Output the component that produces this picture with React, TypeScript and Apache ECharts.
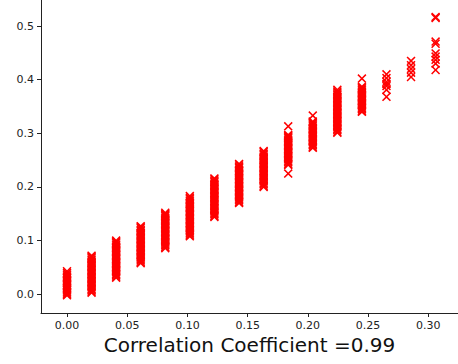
import React, { useEffect, useRef } from "react";
import * as echarts from "echarts";

const xPositions = [0, 0.0204, 0.0408, 0.0612, 0.0816, 0.102, 0.1224, 0.1429, 0.1633, 0.1837, 0.2041, 0.2245, 0.2449, 0.2653, 0.2857, 0.3061];

const col0 = [-0.002, 0.000, 0.003, 0.005, 0.008, 0.010, 0.012, 0.015, 0.017, 0.020, 0.022, 0.025, 0.027, 0.030, 0.032, 0.035, 0.037, 0.040, 0.043];
const col1 = [0.003, 0.005, 0.008, 0.010, 0.013, 0.015, 0.018, 0.020, 0.023, 0.025, 0.028, 0.030, 0.033, 0.035, 0.038, 0.040, 0.043, 0.045, 0.048, 0.050, 0.053, 0.055, 0.058, 0.060, 0.063, 0.065, 0.068, 0.070, 0.072];
const col2 = [0.031, 0.033, 0.036, 0.038, 0.041, 0.043, 0.046, 0.048, 0.051, 0.053, 0.056, 0.058, 0.061, 0.063, 0.066, 0.068, 0.071, 0.073, 0.076, 0.078, 0.081, 0.083, 0.086, 0.088, 0.091, 0.093, 0.096, 0.098, 0.100];
const col3 = [0.058, 0.060, 0.063, 0.065, 0.068, 0.070, 0.073, 0.075, 0.078, 0.080, 0.083, 0.085, 0.088, 0.090, 0.093, 0.095, 0.098, 0.100, 0.103, 0.105, 0.108, 0.110, 0.113, 0.115, 0.118, 0.120, 0.123, 0.125, 0.127];
const col4 = [0.086, 0.088, 0.091, 0.093, 0.096, 0.098, 0.101, 0.103, 0.106, 0.108, 0.111, 0.113, 0.116, 0.118, 0.121, 0.123, 0.126, 0.128, 0.131, 0.133, 0.136, 0.138, 0.141, 0.143, 0.146, 0.148, 0.150, 0.152];
const col5 = [0.108, 0.110, 0.113, 0.115, 0.118, 0.120, 0.123, 0.125, 0.128, 0.130, 0.133, 0.135, 0.138, 0.140, 0.143, 0.145, 0.148, 0.150, 0.153, 0.155, 0.158, 0.160, 0.163, 0.165, 0.168, 0.170, 0.173, 0.175, 0.178, 0.180, 0.183];
const col6 = [0.144, 0.146, 0.149, 0.151, 0.154, 0.156, 0.159, 0.161, 0.164, 0.166, 0.169, 0.171, 0.174, 0.176, 0.179, 0.181, 0.184, 0.186, 0.189, 0.191, 0.194, 0.196, 0.199, 0.201, 0.204, 0.206, 0.209, 0.211, 0.214, 0.216];
const col7 = [0.170, 0.172, 0.175, 0.177, 0.180, 0.182, 0.185, 0.187, 0.190, 0.192, 0.195, 0.197, 0.200, 0.202, 0.205, 0.207, 0.210, 0.212, 0.215, 0.217, 0.220, 0.222, 0.225, 0.227, 0.230, 0.232, 0.235, 0.237, 0.240, 0.243];
const col8 = [0.200, 0.202, 0.205, 0.207, 0.210, 0.212, 0.215, 0.217, 0.220, 0.222, 0.225, 0.227, 0.230, 0.232, 0.235, 0.237, 0.240, 0.242, 0.245, 0.247, 0.250, 0.252, 0.255, 0.257, 0.260, 0.262, 0.265, 0.267];
const col9 = [0.225, 0.241, 0.243, 0.246, 0.248, 0.251, 0.253, 0.256, 0.258, 0.261, 0.263, 0.266, 0.268, 0.271, 0.273, 0.276, 0.278, 0.281, 0.283, 0.286, 0.288, 0.291, 0.293, 0.295, 0.297, 0.313];
const col10 = [0.273, 0.275, 0.278, 0.280, 0.283, 0.285, 0.288, 0.290, 0.293, 0.295, 0.298, 0.300, 0.303, 0.305, 0.308, 0.310, 0.313, 0.315, 0.318, 0.320, 0.322, 0.333];
const col11 = [0.301, 0.303, 0.306, 0.308, 0.311, 0.313, 0.316, 0.318, 0.321, 0.323, 0.326, 0.328, 0.331, 0.333, 0.336, 0.338, 0.341, 0.343, 0.346, 0.348, 0.351, 0.353, 0.356, 0.358, 0.361, 0.363, 0.366, 0.368, 0.371, 0.373, 0.376, 0.378, 0.381];
const col12 = [0.340, 0.342, 0.345, 0.347, 0.350, 0.352, 0.355, 0.357, 0.360, 0.362, 0.365, 0.367, 0.370, 0.372, 0.375, 0.377, 0.380, 0.382, 0.385, 0.387, 0.402];
const col13 = [0.368, 0.381, 0.388, 0.392, 0.396, 0.403, 0.410];
const col14 = [0.405, 0.413, 0.420, 0.427, 0.435];
const col15 = [0.418, 0.430, 0.437, 0.443, 0.449, 0.467, 0.471, 0.515, 0.517];

const columns = [col0, col1, col2, col3, col4, col5, col6, col7, col8, col9, col10, col11, col12, col13, col14, col15];

const xTicks = [0, 0.05, 0.1, 0.15, 0.2, 0.25, 0.3];
const yTicks = [0, 0.1, 0.2, 0.3, 0.4, 0.5];
const xLabel = "Correlation Coefficient =0.99";

const X_SYMBOL =
  "path://M0,1.2L1.2,0L5,3.8L8.8,0L10,1.2L6.2,5L10,8.8L8.8,10L5,6.2L1.2,10L0,8.8L3.8,5Z";

export default function App() {
  const ref = useRef<HTMLDivElement>(null);
  useEffect(() => {
    if (!ref.current) return;
    const chart = echarts.init(ref.current, null, { renderer: "svg" });
    const data: number[][] = [];
    columns.forEach((col, i) => col.forEach((v) => data.push([xPositions[i], v])));
    const axisCommon = {
      axisLine: { show: true, onZero: false, lineStyle: { color: "#222", width: 1 } },
      axisTick: { show: true, inside: false, length: 4, lineStyle: { color: "#222", width: 1 } },
      splitLine: { show: false },
    };
    const labelStyle = {
      fontFamily: "DejaVu Sans",
      fontSize: 11,
      color: "#222",
      margin: 7,
    };
    chart.setOption({
      animation: false,
      grid: { left: 41, right: 0, top: 0, bottom: 51, containLabel: false },
      xAxis: {
        type: "value",
        min: -0.0216,
        max: 0.3247,
        ...axisCommon,
        axisTick: { ...axisCommon.axisTick, customValues: xTicks },
        axisLabel: {
          ...labelStyle,
          customValues: xTicks,
          formatter: (v: number) => v.toFixed(2),
        },
      },
      yAxis: {
        type: "value",
        min: -0.0349,
        max: 0.5485,
        ...axisCommon,
        axisTick: { ...axisCommon.axisTick, customValues: yTicks },
        axisLabel: {
          ...labelStyle,
          customValues: yTicks,
          formatter: (v: number) => v.toFixed(1),
        },
      },
      graphic: [
        {
          type: "text",
          x: 249.5,
          y: 345,
          style: {
            text: xLabel,
            fontFamily: "DejaVu Sans",
            fontSize: 20,
            fill: "#111",
            align: "center",
            verticalAlign: "middle",
          },
        },
      ],
      series: [
        {
          type: "scatter",
          data,
          symbol: X_SYMBOL,
          symbolSize: 9,
          itemStyle: { color: "#ff0000", opacity: 1 },
          emphasis: { disabled: true },
        },
      ],
    });
    return () => chart.dispose();
  }, []);
  return (
    <div
      ref={ref}
      style={{ position: "fixed", left: 0, top: 0, width: 458, height: 364, background: "#fff" }}
    />
  );
}
